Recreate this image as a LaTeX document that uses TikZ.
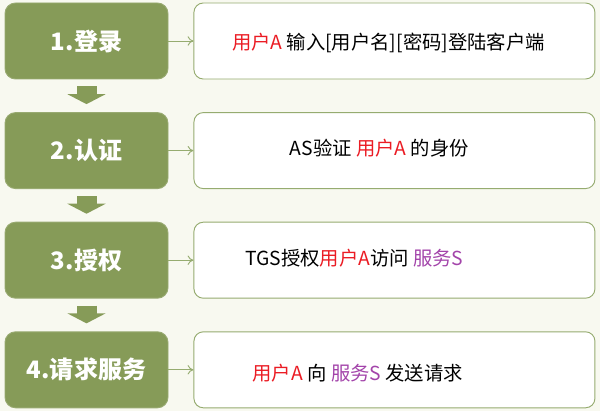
\documentclass[tikz,border=0pt]{standalone}
\usepackage{fontspec}
\newfontfamily\cjk{Noto Sans CJK SC}
\usetikzlibrary{positioning, calc, arrows.meta}
\definecolor{stepgreen}{RGB}{134,155,88}
\definecolor{linegreen}{RGB}{150,172,112}
\definecolor{bgcream}{RGB}{248,249,240}
\definecolor{userred}{RGB}{235,28,36}
\definecolor{servpurple}{RGB}{163,68,170}
\newcommand{\usr}[1]{\textcolor{userred}{#1}}
\newcommand{\srv}[1]{\textcolor{servpurple}{#1}}

\begin{document}
\begin{tikzpicture}[
        Step/.style = {rectangle, rounded corners = 9, draw = stepgreen!85!white, fill = stepgreen, thick, minimum width = 4.89cm, minimum height = 2.28cm, inner sep = 0, text = white, font = \cjk\bfseries\fontsize{20.5}{24}\selectfont},
        % 
        Detail/.style = {rectangle, rounded corners = 8, draw = linegreen, fill = white, thick, minimum width = 12.03cm, minimum height = 2.28cm, inner sep = 0},
        % 
        Desc/.style = {inner sep = 0, font = \cjk\fontsize{16.5}{20}\selectfont},
        % 
        Link/.style = {draw = linegreen, thick, -{To[length=5pt, width=8pt]}},
        % 
        BigArrow/.style = {draw = stepgreen, line width = 0.6cm, -{Triangle[length=0.3cm, width=1.14cm]}, shorten <= 0.21cm, shorten >= 0.24cm},
    ]
        % Background
        \fill[bgcream] (0,0) rectangle (18,-12.33);

        % Steps
        \node[Step] (Login) at (2.595,-1.23) {1.登录};
        \node[Step] (Auth) [below = 0.98cm of Login] {2.认证};
        \node[Step] (Grant) [below = 0.98cm of Auth] {3.授权};
        \node[Step] (Request) [below = 0.98cm of Grant] {4.请求服务};

        % Details
        \node[Detail] (DetLogin) [right = 0.75cm of Login] {};
        \node[Detail] (DetAuth) [right = 0.75cm of Auth] {};
        \node[Detail] (DetGrant) [right = 0.75cm of Grant] {};
        \node[Detail] (DetRequest) [right = 0.75cm of Request] {};

        % Texts
        \node[Desc] (TxtLogin) at ([xshift=-0.18cm, yshift=-0.06cm]DetLogin.center) {\usr{用户A} 输入[用户名][密码]登陆客户端};
        \node[Desc] (TxtAuth) at ([xshift=-0.45cm, yshift=0.06cm]DetAuth.center) {AS验证 \usr{用户A} 的身份};
        \node[Desc] (TxtGrant) at ([xshift=-1.2cm, yshift=0.07cm]DetGrant.center) {TGS授权\usr{用户A}访问 \srv{服务S}};
        \node[Desc] (TxtRequest) at ([xshift=-1.1cm, yshift=-0.1cm]DetRequest.center) {\usr{用户A} 向 \srv{服务S} 发送请求};

        % Arrows step to detail
        \draw[Link] (Login) to (DetLogin);
        \draw[Link] (Auth) to (DetAuth);
        \draw[Link] (Grant) to (DetGrant);
        \draw[Link] (Request) to (DetRequest);

        % Arrows between steps
        \draw[BigArrow] (Login.south) to (Auth.north);
        \draw[BigArrow] (Auth.south) to (Grant.north);
        \draw[BigArrow] (Grant.south) to (Request.north);

    \end{tikzpicture}
\end{document}
